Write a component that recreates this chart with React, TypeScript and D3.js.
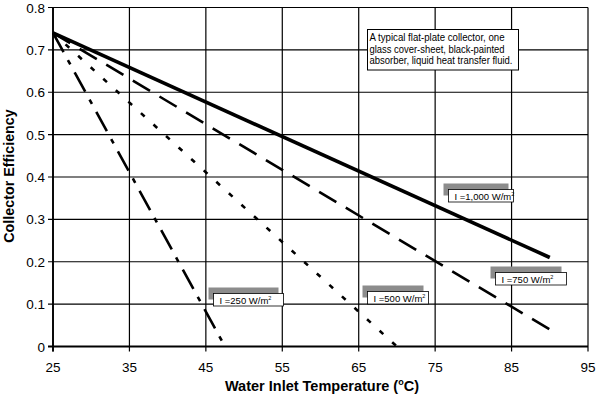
import * as d3 from "d3";

// chart data
const xTicks = [25, 35, 45, 55, 65, 75, 85, 95];
const yTicks = [0, 0.1, 0.2, 0.3, 0.4, 0.5, 0.6, 0.7, 0.8];
const seriesNames = ["I =1,000 W/m", "I =750 W/m", "I =500 W/m", "I =250 W/m"];
const startTemps = [25, 25, 25, 25];
const startEffs = [0.74, 0.74, 0.74, 0.74];
const endTemps = [90, 90, 70, 47.5];
const endEffs = [0.21, 0.04, 0, 0];
const noteLines = [
  "A typical flat-plate collector, one",
  "glass cover-sheet, black-painted",
  "absorber, liquid heat transfer fluid.",
];

// label boxes (top-left corner in data units) and line styles
const labelAt = [
  [76.7, 0.371],
  [82.85, 0.176],
  [66.1, 0.131],
  [45.9, 0.126],
];
const labelWidths = [65, 71, 61, 70];
const noteWidths = [135, 135, 143];
const dashes = ["none", "20,11", "5,12", "22,9,5,9"];
const widths = [3.6, 2.6, 2.6, 2.6];

const W = 596;
const H = 398;
const m = { left: 53, right: 8, top: 7.5, bottom: 51.5 };
const font = "'Liberation Sans', Arial, sans-serif";

export default function App() {
  const x = d3.scaleLinear().domain([25, 95]).range([m.left, W - m.right]);
  const y = d3.scaleLinear().domain([0, 0.8]).range([H - m.bottom, m.top]);
  const line = d3
    .line<[number, number]>()
    .x((d) => x(d[0]))
    .y((d) => y(d[1]));

  return (
    <svg
      width={W}
      height={H}
      style={{ position: "absolute", left: 0, top: 0, background: "#fff" }}
      fontFamily={font}
    >
      {/* grid */}
      {xTicks.map((t) => (
        <line key={"gx" + t} x1={x(t)} x2={x(t)} y1={y(0.8)} y2={y(0) + 5} stroke="#000" strokeWidth={1.2} />
      ))}
      {yTicks.map((t) => (
        <line key={"gy" + t} x1={x(25) - 5} x2={x(95)} y1={y(t)} y2={y(t)} stroke="#000" strokeWidth={1.2} />
      ))}
      <line x1={x(25)} x2={x(25)} y1={y(0.8)} y2={y(0) + 5} stroke="#000" strokeWidth={1.8} />
      <line x1={x(25) - 5} x2={x(95)} y1={y(0)} y2={y(0)} stroke="#000" strokeWidth={2} />

      {/* tick labels */}
      {xTicks.map((t) => (
        <text key={"tx" + t} x={x(t)} y={371.5} fontSize={13.5} textAnchor="middle">
          {t}
        </text>
      ))}
      {yTicks.map((t) => (
        <text key={"ty" + t} x={45} y={y(t) + 5} fontSize={13.5} textAnchor="end">
          {t}
        </text>
      ))}

      {/* axis titles */}
      <text x={322} y={391} fontSize={14.5} fontWeight="bold" textAnchor="middle">
        Water Inlet Temperature (
        <tspan fontSize={9} dy={-6}>o</tspan>
        <tspan dy={6}>C)</tspan>
      </text>
      <text
        transform={`translate(13.5,176) rotate(-90)`}
        fontSize={14.3}
        fontWeight="bold"
        textAnchor="middle"
      >
        Collector Efficiency
      </text>

      {/* efficiency lines */}
      {seriesNames.map((s, i) => (
        <path
          key={"l" + i}
          d={line([
            [startTemps[i], startEffs[i]],
            [endTemps[i], endEffs[i]],
          ]) as string}
          fill="none"
          stroke="#000"
          strokeWidth={widths[i]}
          strokeDasharray={dashes[i]}
        />
      ))}

      {/* note box */}
      <rect x={367.5} y={29.5} width={151} height={40.5} fill="#fff" stroke="#000" strokeWidth={1} />
      {noteLines.map((t, i) => (
        <text
          key={"n" + i}
          x={369.5}
          y={41 + i * 11.7}
          fontSize={10}
          textLength={noteWidths[i]}
          lengthAdjust="spacingAndGlyphs"
        >
          {t}
        </text>
      ))}

      {/* series labels */}
      {seriesNames.map((s, i) => {
        const bx = Math.round(x(labelAt[i][0])) + 0.5;
        const by = Math.round(y(labelAt[i][1])) + 0.5;
        return (
          <g key={"lab" + i}>
            <rect x={bx - 5} y={by - 6} width={labelWidths[i]} height={12} fill="#8c8c8c" />
            <rect x={bx} y={by} width={labelWidths[i]} height={12.5} fill="#fff" stroke="#000" strokeWidth={0.8} />
            <text x={bx + 6} y={by + 10} fontSize={9.5}>
              {s}
              <tspan fontSize={5.5} dy={-4}>2</tspan>
            </text>
          </g>
        );
      })}
    </svg>
  );
}
